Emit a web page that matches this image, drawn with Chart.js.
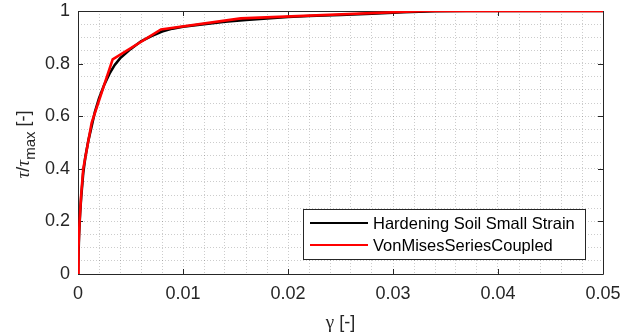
<!DOCTYPE html>
<html>
<head>
<meta charset="utf-8">
<script src="https://cdn.jsdelivr.net/npm/chart.js@4"></script>
<style>
html,body{margin:0;padding:0;background:#fff;}
#wrap{width:622px;height:335px;position:relative;}
</style>
</head>
<body>
<div id="wrap"><canvas id="c" width="622" height="335"></canvas></div>
<script>
// ---- data ----
const hsStrain = [0, 0.0001, 0.0002, 0.0003, 0.0005, 0.0007, 0.001, 0.0013, 0.0016, 0.002, 0.0025, 0.003, 0.0035, 0.004, 0.005, 0.006, 0.007, 0.008, 0.009, 0.010, 0.012, 0.014, 0.016, 0.018, 0.020, 0.022, 0.025, 0.028, 0.031, 0.034, 0.037, 0.05];
const hsTau    = [0, 0.15, 0.23, 0.29, 0.385, 0.445, 0.51, 0.562, 0.615, 0.668, 0.72, 0.762, 0.795, 0.82, 0.855, 0.885, 0.905, 0.922, 0.933, 0.940, 0.950, 0.959, 0.966, 0.972, 0.977, 0.981, 0.985, 0.990, 0.995, 0.999, 1.0, 1.0];
const vmStrain = [0, 0.00005, 0.00015, 0.0003, 0.0005, 0.0013, 0.0033, 0.0079, 0.0155, 0.033, 0.05];
const vmTau    = [0, 0.10, 0.20, 0.30, 0.40, 0.575, 0.816, 0.930, 0.972, 1.0, 1.0];
const seriesNames = ['Hardening Soil Small Strain', 'VonMisesSeriesCoupled'];
const xTickLabels = ['0', '0.01', '0.02', '0.03', '0.04', '0.05'];
const yTickLabels = ['0', '0.2', '0.4', '0.6', '0.8', '1'];
const xMajor = [0, 0.01, 0.02, 0.03, 0.04, 0.05];
const yMajor = [0, 0.2, 0.4, 0.6, 0.8, 1];

const toPts = (xs, ys) => xs.map((x, i) => ({x: x, y: ys[i]}));
const AX = '#262626';
const FONT = '"Liberation Sans", Arial, Helvetica, sans-serif';

function majorLabel(v, majors, labels) {
  for (let i = 0; i < majors.length; i++) {
    if (Math.abs(v - majors[i]) < 1e-9) return labels[i];
  }
  return '';
}

const framePlugin = {
  id: 'frame',
  beforeDatasetsDraw(chart) {
    const ctx = chart.ctx, a = chart.chartArea;
    const xs = chart.scales.x, ys = chart.scales.y;
    ctx.save();
    ctx.strokeStyle = AX;
    ctx.lineWidth = 1;
    ctx.beginPath();
    ctx.rect(Math.round(a.left) + 0.5, Math.round(a.top) + 0.5, Math.round(a.right - a.left), Math.round(a.bottom - a.top));
    ctx.stroke();
    ctx.beginPath();
    const tl = 5;
    xMajor.forEach(v => {
      const px = Math.round(xs.getPixelForValue(v)) + 0.5;
      ctx.moveTo(px, a.bottom); ctx.lineTo(px, a.bottom - tl);
      ctx.moveTo(px, a.top); ctx.lineTo(px, a.top + tl);
    });
    yMajor.forEach(v => {
      const py = Math.round(ys.getPixelForValue(v)) + 0.5;
      ctx.moveTo(a.left, py); ctx.lineTo(a.left + tl, py);
      ctx.moveTo(a.right, py); ctx.lineTo(a.right - tl, py);
    });
    ctx.stroke();
    ctx.restore();
  },
  afterDraw(chart) {
    const ctx = chart.ctx, a = chart.chartArea;
    ctx.save();
    ctx.fillStyle = AX;
    // x title
    ctx.textBaseline = 'alphabetic';
    ctx.textAlign = 'left';
    const segX = [
      {t: 'γ', f: '19px "Liberation Serif", serif'},
      {t: ' [-]', f: '18px ' + FONT}
    ];
    let w = 0;
    segX.forEach(s => { ctx.font = s.f; w += ctx.measureText(s.t).width; });
    let x0 = (a.left + a.right) / 2 - w / 2;
    segX.forEach(s => { ctx.font = s.f; ctx.fillText(s.t, x0, 328); x0 += ctx.measureText(s.t).width; });
    // y title (rotated)
    const segY = [
      {t: 'τ', f: 'italic 19px "Liberation Serif", serif', dy: 0},
      {t: '/', f: '18px ' + FONT, dy: 0},
      {t: 'τ', f: 'italic 19px "Liberation Serif", serif', dy: 0},
      {t: 'max', f: '15px ' + FONT, dy: 6},
      {t: ' [-]', f: '18px ' + FONT, dy: 0}
    ];
    let wy = 0;
    segY.forEach(s => { ctx.font = s.f; wy += ctx.measureText(s.t).width; });
    ctx.translate(29, (a.top + a.bottom) / 2 + 2);
    ctx.rotate(-Math.PI / 2);
    let p = -wy / 2;
    segY.forEach(s => { ctx.font = s.f; ctx.fillText(s.t, p, s.dy); p += ctx.measureText(s.t).width; });
    ctx.restore();

    // legend
    ctx.save();
    const lx = 303, ly = 209, lw = 282, lh = 50;
    ctx.fillStyle = '#fff';
    ctx.fillRect(lx, ly, lw, lh);
    ctx.strokeStyle = AX;
    ctx.lineWidth = 1;
    ctx.strokeRect(lx + 0.5, ly + 0.5, lw, lh);
    ctx.font = '16.5px ' + FONT;
    ctx.textBaseline = 'middle';
    ctx.textAlign = 'left';
    chart.data.datasets.forEach((ds, i) => {
      const yy = ly + 14 + i * 22;
      ctx.strokeStyle = ds.borderColor;
      ctx.lineWidth = 2;
      ctx.beginPath();
      ctx.moveTo(310, yy); ctx.lineTo(368, yy);
      ctx.stroke();
      ctx.fillStyle = '#000';
      ctx.fillText(ds.label, 373, yy + 1);
    });
    ctx.restore();
  }
};

new Chart(document.getElementById('c'), {
  type: 'scatter',
  data: {
    datasets: [
      {label: seriesNames[0], data: toPts(hsStrain, hsTau), borderColor: '#000000', backgroundColor: '#000000', borderWidth: 2.6, showLine: true, pointRadius: 0, tension: 0, order: 1},
      {label: seriesNames[1], data: toPts(vmStrain, vmTau), borderColor: '#ff0000', backgroundColor: '#ff0000', borderWidth: 2.6, showLine: true, pointRadius: 0, tension: 0, order: 0}
    ]
  },
  options: {
    responsive: false,
    animation: false,
    devicePixelRatio: 1,
    layout: {padding: {top: 11, right: 19, left: 0, bottom: 0}},
    plugins: {legend: {display: false}, tooltip: {enabled: false}},
    scales: {
      x: {
        type: 'linear', min: 0, max: 0.05,
        afterFit(s) { s.height = 61; s.paddingLeft = 0; s.paddingRight = 0; },
        ticks: {stepSize: 0.002, autoSkip: false, maxRotation: 0, padding: 9, color: AX,
          font: {family: FONT, size: 18},
          callback: v => majorLabel(v, xMajor, xTickLabels)},
        grid: {color: 'rgba(0,0,0,0.2)', lineWidth: 1, drawTicks: false},
        border: {display: false, dash: [1, 2]}
      },
      y: {
        type: 'linear', min: 0, max: 1,
        afterFit(s) { s.width = 78; s.paddingTop = 0; s.paddingBottom = 0; },
        ticks: {stepSize: 0.05, autoSkip: false, padding: 8, color: AX,
          font: {family: FONT, size: 18},
          callback: v => majorLabel(v, yMajor, yTickLabels)},
        grid: {color: 'rgba(0,0,0,0.2)', lineWidth: 1, drawTicks: false},
        border: {display: false, dash: [1, 2]}
      }
    }
  },
  plugins: [framePlugin]
});
</script>
</body>
</html>
